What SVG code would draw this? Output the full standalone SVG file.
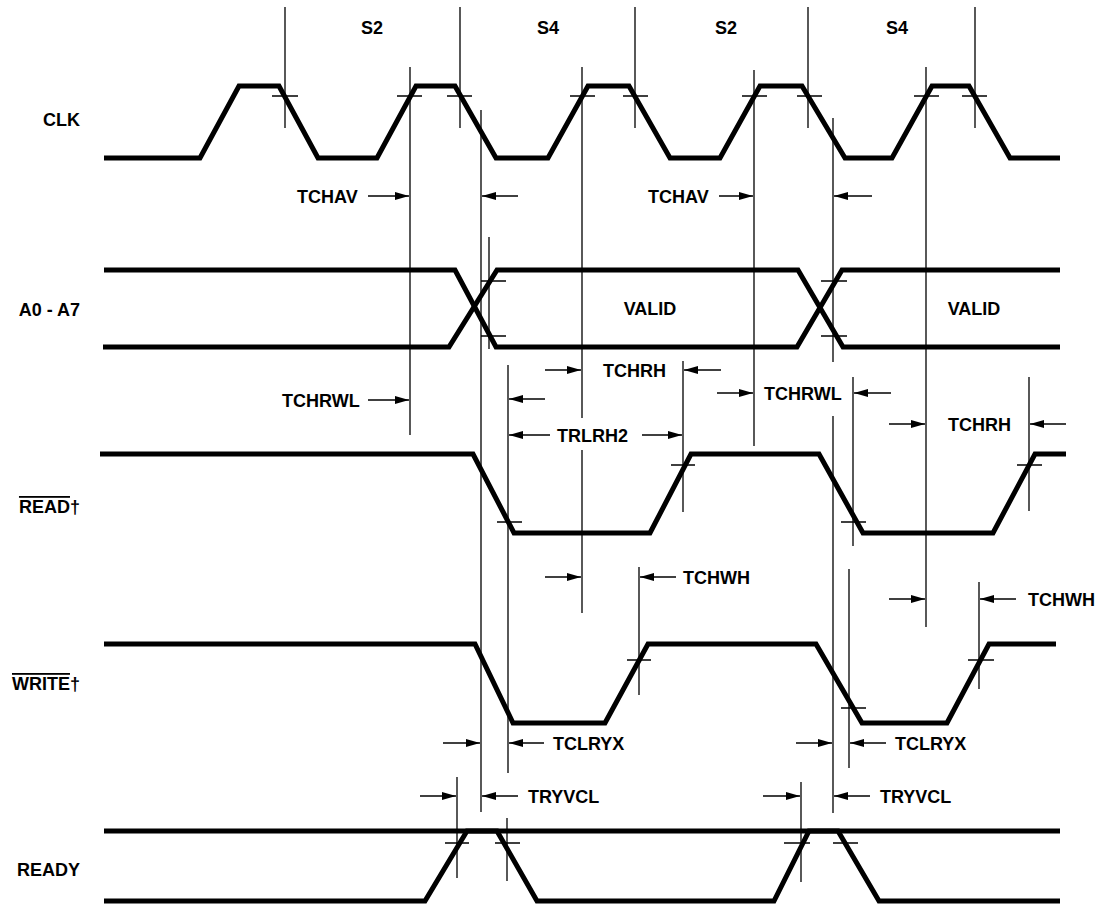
<svg xmlns="http://www.w3.org/2000/svg" width="1103" height="905" viewBox="0 0 1103 905">
<defs>
<marker id="ah" viewBox="0 0 14 8" refX="14" refY="4" markerWidth="14" markerHeight="8" markerUnits="userSpaceOnUse" orient="auto">
<path d="M0,0 L14,4 L0,8 Z" fill="#000"/>
</marker>
<style>
.w{fill:none;stroke:#000;stroke-width:5;stroke-linejoin:miter;stroke-linecap:butt}
.g{stroke:#000;stroke-width:1.3;fill:none}
.a{stroke:#000;stroke-width:1.5;fill:none;marker-end:url(#ah)}
text{font-family:"Liberation Sans",Arial,Helvetica,sans-serif;font-weight:bold;font-size:18px;fill:#000}
.c{text-anchor:middle}
.e{text-anchor:end}
</style>
</defs>
<rect width="1103" height="905" fill="#fff"/>

<g id="signal-labels">
<text class="e" x="80" y="125.5">CLK</text>
<text class="e" x="80" y="315.5">A0 - A7</text>
<text class="e" x="80" y="513"><tspan text-decoration="overline">READ</tspan>†</text>
<text class="e" x="80" y="690"><tspan text-decoration="overline">WRITE</tspan>†</text>
<text class="e" x="80" y="875.5">READY</text>
</g>

<g id="state-labels">
<text class="c" x="372" y="34">S2</text>
<text class="c" x="548" y="34">S4</text>
<text class="c" x="726" y="34">S2</text>
<text class="c" x="897" y="34">S4</text>
</g>

<g id="clk">
<path class="w" d="M104,158 L200,158 L239,86 L279,86 L318,158 L377,158 L416,86 L455,86 L496,158 L548,158 L588,86 L629,86 L670,158 L720,158 L760,86 L802,86 L845,158 L892,158 L932,86 L969,86 L1010,158 L1060,158"/>
<path class="g" d="M272,96 H298 M397,96 H422 M447,96 H472 M570,96 H595 M623,96 H648 M742,96 H767 M797,96 H822 M914,96 H939 M962,96 H987"/>
</g>

<g id="a0-a7">
<path class="w" d="M104,270 L455,270 L496,347 L797,347 L842,270 L1060,270"/>
<path class="w" d="M103,347 L449,347 L497,270 L798,270 L843,347 L1060,347"/>
<path class="g" d="M481,281 H506 M481,336 H506 M821,281 H847 M821,336 H847 M489,237 V349"/>
<text class="c" x="650" y="314.5">VALID</text>
<text class="c" x="974" y="314.5">VALID</text>
</g>

<g id="read">
<path class="w" d="M100,454 L473,454 L514,533 L650,533 L691,454 L819,454 L863,533 L993,533 L1035,454 L1066,454"/>
<path class="g" d="M497,522 H522 M671,465 H695 M841,522 H866 M1017,465 H1042"/>
</g>

<g id="write">
<path class="w" d="M104,644 L475,644 L513,723 L605,723 L648,644 L816,644 L862,723 L947,723 L989,644 L1056,644"/>
<path class="g" d="M627,660 H651 M841,708 H866 M968,660 H994"/>
</g>

<g id="ready">
<path class="w" d="M104,831 L1060,831"/>
<path class="w" d="M104,901 L425,901 L467,831 L497,831 L537,901 L774,901 L809,831 L838,831 L879,901 L1060,901"/>
<path class="g" d="M445,843 H469 M495,843 H520 M784,843 H810 M833,843 H858"/>
</g>

<g id="connectors">
<g id="guides" class="g">
<path d="M285,7 V128 M410,67 V435 M460,7 V128 M481,110 V812 M582,67 V418 M582,450 V613 M635,7 V128 M754,70 V446 M808,7 V128 M833,118 V362 M833,416 V813 M926,67 V627 M975,7 V128"/>
<path d="M508,365 V773 M683,361 V512 M853,377 V546 M1029,377 V511 M639,567 V695 M849,569 V768 M979,582 V689 M457,777 V878 M507,818 V881 M801,782 V882"/>
</g>
<g id="arrows">
<path class="a" d="M368,196 H409"/>
<path class="a" d="M518,196 H482"/>
<path class="a" d="M719,196 H753"/>
<path class="a" d="M872,196 H834"/>
<path class="a" d="M368,400 H409"/>
<path class="a" d="M545,370 H581"/>
<path class="a" d="M721,370 H684"/>
<path class="a" d="M545,399 H509"/>
<path class="a" d="M550,435 H509"/>
<path class="a" d="M642,435 H682"/>
<path class="a" d="M717,393 H753"/>
<path class="a" d="M891,393 H854"/>
<path class="a" d="M889,424 H925"/>
<path class="a" d="M1066,424 H1030"/>
<path class="a" d="M545,577 H581"/>
<path class="a" d="M676,577 H640"/>
<path class="a" d="M889,599 H925"/>
<path class="a" d="M1016,599 H980"/>
<path class="a" d="M443,743 H480"/>
<path class="a" d="M544,743 H509"/>
<path class="a" d="M796,743 H832"/>
<path class="a" d="M886,743 H850"/>
<path class="a" d="M420,796 H456"/>
<path class="a" d="M518,796 H482"/>
<path class="a" d="M763,796 H800"/>
<path class="a" d="M870,796 H834"/>
</g>
</g>

<g id="timing-labels">
<text x="297" y="202.5">TCHAV</text>
<text x="648" y="202.5">TCHAV</text>
<text x="282" y="406.5">TCHRWL</text>
<text x="603" y="377">TCHRH</text>
<text x="557" y="441.5">TRLRH2</text>
<text x="764" y="399.5">TCHRWL</text>
<text x="948" y="430.5">TCHRH</text>
<text x="683" y="583.5">TCHWH</text>
<text x="1028" y="605.5">TCHWH</text>
<text x="553" y="749.5">TCLRYX</text>
<text x="895" y="749.5">TCLRYX</text>
<text x="528" y="802.5">TRYVCL</text>
<text x="880" y="802.5">TRYVCL</text>
</g>
</svg>
